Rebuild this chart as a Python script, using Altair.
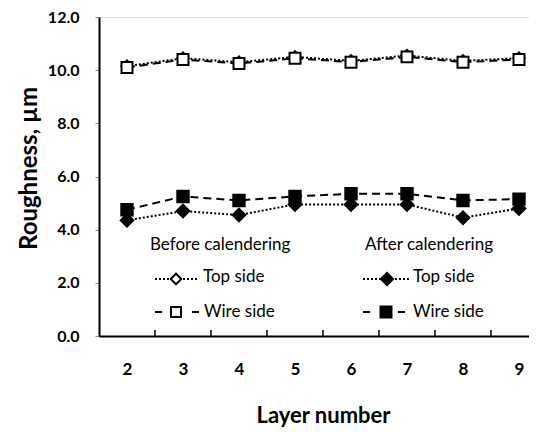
import altair as alt
import pandas as pd

# ---- data ----
layers = [2, 3, 4, 5, 6, 7, 8, 9]
before_top = [10.15, 10.45, 10.3, 10.5, 10.35, 10.55, 10.35, 10.45]
before_wire = [10.1, 10.4, 10.25, 10.45, 10.3, 10.5, 10.3, 10.4]
after_top = [4.35, 4.7, 4.55, 4.95, 4.95, 4.95, 4.45, 4.8]
after_wire = [4.75, 5.25, 5.1, 5.25, 5.35, 5.35, 5.1, 5.15]
y_ticks = [0, 2, 4, 6, 8, 10, 12]
band_edges = [2.5, 3.5, 4.5, 5.5, 6.5, 7.5, 8.5]
group_titles = ["Before calendering", "After calendering"]
entry_labels = ["Top side", "Wire side"]

FONT = "Lato"
W, H = 430, 319
TOP = 9
x_scale = alt.Scale(domain=[1.5, 1.5 + W / 56], nice=False, zero=False)
y_scale = alt.Scale(domain=[0, 12], nice=False)

x_axis = alt.Axis(values=layers, format="d", grid=False, ticks=False, tickSize=0,
                  labelPadding=25, labelFontSize=17, labelFontWeight="bold",
                  labelFont=FONT, labelColor="black", labelAngle=0,
                  domainColor="black", domainWidth=2,
                  title="Layer number", titleFont=FONT, titleFontSize=22,
                  titleFontWeight="bold", titleColor="black",
                  titleX=224, titleY=86, titleAlign="center", titleBaseline="alphabetic")
y_axis = alt.Axis(values=y_ticks, format=".1f", grid=False, tickSize=4, tickColor="#888",
                  labelPadding=16, labelFontSize=16, labelFontWeight="bold",
                  labelFont=FONT, labelColor="black",
                  domainColor="black", domainWidth=2,
                  title="Roughness, µm", titleFont=FONT, titleFontSize=24,
                  titleFontWeight="bold", titleColor="black",
                  titleX=-63, titleY=168 - 8 - TOP, titleAngle=270, titleAlign="center",
                  titleBaseline="alphabetic")


def series_df(vals):
    return pd.DataFrame({"layer": layers, "value": vals})


def line(vals, dash):
    return alt.Chart(series_df(vals)).mark_line(color="black", strokeWidth=2, strokeDash=dash).encode(
        x=alt.X("layer:Q", scale=x_scale, axis=x_axis),
        y=alt.Y("value:Q", scale=y_scale, axis=y_axis),
    )


def points(vals, shape, fill, size):
    return alt.Chart(series_df(vals)).mark_point(
        shape=shape, filled=True, fill=fill, stroke="black", strokeWidth=2, size=size, opacity=1
    ).encode(
        x=alt.X("layer:Q", scale=x_scale, axis=x_axis),
        y=alt.Y("value:Q", scale=y_scale, axis=y_axis),
    )


DOT = [2, 2]
DASH = [8, 5]

ticks = alt.Chart(pd.DataFrame({"b": band_edges})).mark_rule(color="black", strokeWidth=1.5).encode(
    x=alt.X("b:Q", scale=x_scale, axis=x_axis),
    y=alt.value(H),
    y2=alt.value(H - 6),
)

# legend placement (page pixels converted to plot-area pixels)
OY = 8 + TOP


def text(t, x, y, size=17, weight="normal"):
    return alt.Chart(pd.DataFrame({"t": [t]})).mark_text(
        font=FONT, fontSize=size, fontWeight=weight, color="black", align="left", baseline="middle"
    ).encode(x=alt.value(x), y=alt.value(y - OY), text="t:N")


def leg_rule(x1, x2, y, dash):
    return alt.Chart(pd.DataFrame({"a": [0]})).mark_rule(color="black", strokeWidth=2, strokeDash=dash).encode(
        x=alt.value(x1), x2=alt.value(x2), y=alt.value(y - OY)
    )


def leg_point(x, y, shape, fill, size):
    return alt.Chart(pd.DataFrame({"a": [0]})).mark_point(
        shape=shape, filled=True, fill=fill, stroke="black", strokeWidth=2, size=size, opacity=1
    ).encode(x=alt.value(x), y=alt.value(y - OY))


legend_layers = [
    text(group_titles[0], 51, 245),
    text(group_titles[1], 266, 245),
    leg_rule(56, 98, 279, DOT), leg_point(77, 279, "diamond", "white", 110), text(entry_labels[0], 104, 277),
    leg_rule(56, 100, 312, [7, 30]), leg_point(77, 312, "square", "white", 100), text(entry_labels[1], 105, 312),
    leg_rule(264, 311, 279, DOT), leg_point(288, 279, "diamond", "black", 150), text(entry_labels[0], 314, 277),
    leg_rule(264, 306, 312, [7, 28]), leg_point(287, 312, "square", "black", 120), text(entry_labels[1], 314, 312),
]

chart = alt.layer(
    ticks,
    line(before_top, DOT), line(before_wire, DASH),
    line(after_top, DOT), line(after_wire, DASH),
    points(before_top, "diamond", "white", 130),
    points(before_wire, "square", "white", 120),
    points(after_top, "diamond", "black", 160),
    points(after_wire, "square", "black", 130),
    *legend_layers,
).properties(
    width=W, height=H,
    autosize=alt.AutoSizeParams(type="none"),
    padding={"left": 91, "top": TOP, "right": 0, "bottom": 92},
).configure_view(stroke=None).configure(background="white")

chart.save("out.html", embed_options={"renderer": "svg", "actions": False})
